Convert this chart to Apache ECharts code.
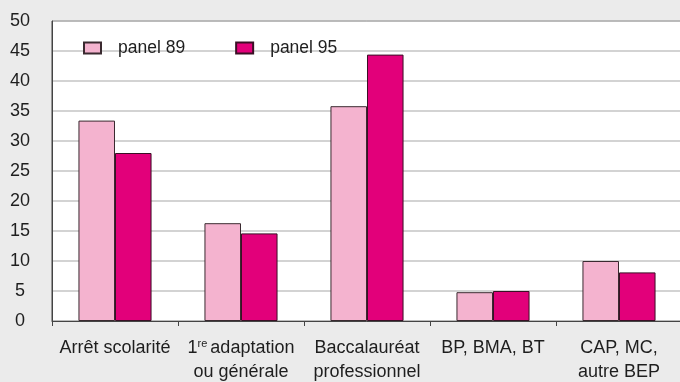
<!DOCTYPE html>
<html>
<head>
<meta charset="utf-8">
<script src="https://cdn.jsdelivr.net/npm/echarts@6/dist/echarts.min.js"></script>
<style>
  html, body { margin: 0; padding: 0; background: #ebebeb; }
  #chart { width: 680px; height: 382px; }
</style>
</head>
<body>
<div id="chart"></div>
<script>
// Categories (rich-text markup for the superscript in "1re")
const categories = [
  'Arrêt scolarité',
  '{n|1}{sup|re}{n|adaptation}\n{n|ou générale}',
  'Baccalauréat\nprofessionnel',
  'BP, BMA, BT',
  'CAP, MC,\nautre BEP'
];
const panel89 = [33.4, 16.3, 35.8, 4.8, 10.0];
const panel95 = [28.0, 14.6, 44.4, 5.0, 8.1];
const yTicks = { min: 0, max: 50, interval: 5 };

const FONT = '"Liberation Sans", Arial, sans-serif';
const INK = '#1e1e1e';
const chart = echarts.init(document.getElementById('chart'), null, { renderer: 'canvas' });

chart.setOption({
  backgroundColor: '#ebebeb',
  animation: false,
  textStyle: { fontFamily: FONT },
  grid: {
    left: 52, top: 21, right: -2, bottom: 61,
    outerBoundsMode: 'none',
    show: true, backgroundColor: '#ffffff',
    borderColor: '#444', borderWidth: 1
  },
  legend: {
    left: 78, top: 34,
    itemWidth: 17, itemHeight: 11, itemGap: 50,
    icon: 'rect',
    textStyle: { fontSize: 17.5, color: INK, fontFamily: FONT, padding: [0, 0, 0, 12] },
    data: ['panel 89', 'panel 95']
  },
  xAxis: {
    type: 'category',
    data: categories,
    axisLine: { lineStyle: { color: '#444', width: 1 } },
    axisTick: { show: true, length: 5, lineStyle: { color: '#444' } },
    axisLabel: {
      interval: 0, margin: 15, color: INK, fontSize: 18, lineHeight: 24,
      fontFamily: FONT,
      rich: {
        n: { fontSize: 18, color: INK, fontFamily: FONT, lineHeight: 24 },
        sup: { fontSize: 11, color: INK, fontFamily: FONT, lineHeight: 24, padding: [0, 3, 9, 0] }
      }
    }
  },
  yAxis: {
    type: 'value',
    min: yTicks.min, max: yTicks.max, interval: yTicks.interval,
    axisLine: { show: true, lineStyle: { color: '#444', width: 1 } },
    axisTick: { show: false },
    splitLine: { lineStyle: { color: '#c4c4c4', width: 1.5 } },
    axisLabel: { color: INK, fontSize: 18, align: 'center', margin: 32, fontFamily: FONT }
  },
  series: [
    {
      name: 'panel 89', type: 'bar', data: panel89,
      barGap: '0%', barCategoryGap: '42%',
      itemStyle: { color: '#f4b3cf', borderColor: '#3a2a30', borderWidth: 1 }
    },
    {
      name: 'panel 95', type: 'bar', data: panel95,
      barGap: '0%', barCategoryGap: '42%',
      itemStyle: { color: '#e2007a', borderColor: '#3a1025', borderWidth: 1 }
    }
  ]
});
</script>
</body>
</html>
